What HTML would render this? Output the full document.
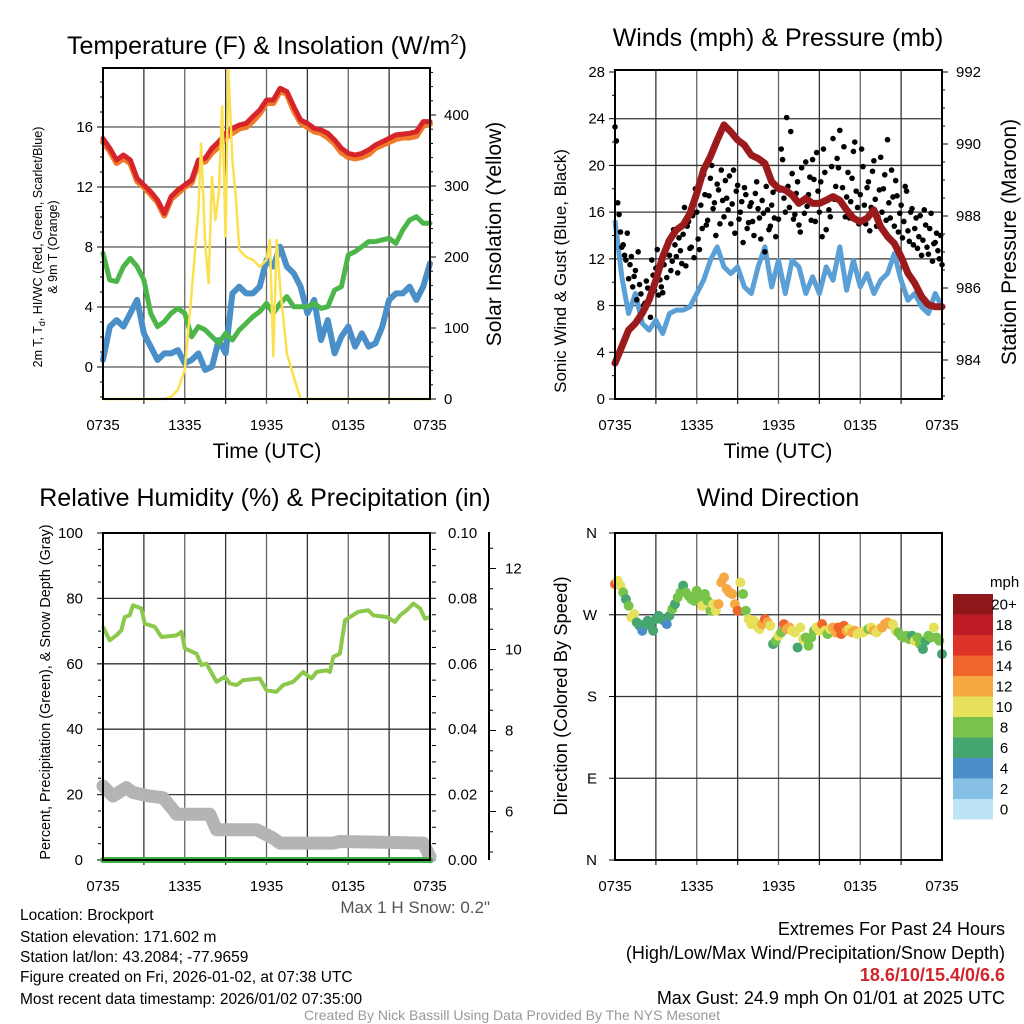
<!DOCTYPE html>
<html><head><meta charset="utf-8">
<style>
html,body{margin:0;padding:0;background:#fff;}
svg{display:block;font-family:"Liberation Sans",Arial,sans-serif;}
</style></head>
<body>
<svg id="chart" width="1024" height="1024" viewBox="0 0 1024 1024" xmlns="http://www.w3.org/2000/svg">
<rect x="0" y="0" width="1024" height="1024" fill="#fff"/>
<!-- titles -->
<text x="267" y="54" font-size="25" text-anchor="middle">Temperature (F) &amp; Insolation (W/m<tspan font-size="15" dy="-10">2</tspan><tspan dy="10">)</tspan></text>
<text x="778" y="46" font-size="25" text-anchor="middle">Winds (mph) &amp; Pressure (mb)</text>
<text x="265" y="506" font-size="25" text-anchor="middle">Relative Humidity (%) &amp; Precipitation (in)</text>
<text x="778" y="506" font-size="25" text-anchor="middle">Wind Direction</text>
<!-- axis titles -->
<text transform="translate(42,247) rotate(-90)" font-size="12.5" text-anchor="middle">2m T, T<tspan font-size="9" dy="3">d</tspan><tspan dy="-3">, HI/WC (Red, Green, Scarlet/Blue)</tspan></text>
<text transform="translate(57,247) rotate(-90)" font-size="12.5" text-anchor="middle">&amp; 9m T (Orange)</text>
<text transform="translate(501,234) rotate(-90)" font-size="21" text-anchor="middle">Solar Insolation (Yellow)</text>
<text x="267" y="458" font-size="21" text-anchor="middle">Time (UTC)</text>
<text transform="translate(566,271) rotate(-90)" font-size="17" text-anchor="middle">Sonic Wind &amp; Gust (Blue, Black)</text>
<text transform="translate(1016,242) rotate(-90)" font-size="21" text-anchor="middle">Station Pressure (Maroon)</text>
<text x="778" y="458" font-size="21" text-anchor="middle">Time (UTC)</text>
<text transform="translate(50,692) rotate(-90)" font-size="14.4" text-anchor="middle">Percent, Precipitation (Green), &amp; Snow Depth (Gray)</text>
<text transform="translate(567,696) rotate(-90)" font-size="18.4" text-anchor="middle">Direction (Colored By Speed)</text>
<text x="490" y="913" font-size="17" fill="#555" text-anchor="end">Max 1 H Snow: 0.2"</text>
<!-- info text -->
<g font-size="15.5">
<text x="20" y="920">Location: Brockport</text>
<text x="20" y="942">Station elevation: 171.602 m</text>
<text x="20" y="962">Station lat/lon: 43.2084; -77.9659</text>
<text x="20" y="982">Figure created on Fri, 2026-01-02, at 07:38 UTC</text>
<text x="20" y="1004">Most recent data timestamp: 2026/01/02 07:35:00</text>
</g>
<g font-size="18" text-anchor="end">
<text x="1005" y="935">Extremes For Past 24 Hours</text>
<text x="1005" y="959">(High/Low/Max Wind/Precipitation/Snow Depth)</text>
<text x="1005" y="981" fill="#d0252a" font-weight="bold">18.6/10/15.4/0/6.6</text>
<text x="1005" y="1004">Max Gust: 24.9 mph On 01/01 at 2025 UTC</text>
</g>
<text x="512" y="1020" font-size="14" fill="#999" text-anchor="middle">Created By Nick Bassill Using Data Provided By The NYS Mesonet</text>
<g id="plots"></g>
</svg>
<script>
// ---------- DATA ----------
const timeTicks = ['0735','1335','1935','0135','0735'];
// Temperature panel (half-hour samples)
const tempRed = [15.24,14.58,13.8,14.13,13.8,12.58,12.13,11.69,11.13,10.24,11.36,11.8,12.13,12.47,13.8,13.91,14.58,15.02,15.58,15.91,16.13,16.24,16.69,17.13,17.8,17.8,18.58,18.36,17.36,16.47,16.24,15.91,15.8,15.58,15.13,14.58,14.24,14.13,14.24,14.47,14.8,15.02,15.24,15.47,15.53,15.58,15.69,16.36,16.36];
const tempOrange = [15.0,14.4,13.6,13.9,13.6,12.4,12.0,11.5,11.0,10.1,11.2,11.6,12.0,12.3,13.6,13.7,14.3,14.7,15.3,15.6,15.9,16.0,16.4,16.9,17.6,17.6,18.4,18.2,17.1,16.3,16.0,15.7,15.6,15.3,14.9,14.3,14.0,13.9,14.0,14.2,14.6,14.8,15.0,15.2,15.3,15.3,15.4,16.1,16.2];
const dewGreen = [7.58,5.8,5.69,6.69,7.24,6.69,5.8,3.58,2.69,3.02,3.58,3.91,3.58,2.02,2.69,2.47,2.02,1.58,2.24,1.8,2.47,2.91,3.36,3.69,4.24,3.58,4.24,4.69,4.02,4.02,4.02,4.24,3.91,4.02,5.13,5.36,7.47,7.69,8.02,8.36,8.36,8.47,8.58,8.24,9.13,9.8,10.02,9.58,9.58];
const windChillBlue = [0.47,2.69,3.13,2.69,3.58,4.47,2.24,1.36,0.47,0.91,0.91,1.13,0.24,0.47,0.91,-0.2,0.02,1.8,0.91,4.91,5.36,4.91,4.91,5.36,7.13,6.69,8.02,6.69,6.24,5.36,3.58,4.47,1.8,3.13,0.91,2.02,2.69,1.36,2.24,1.36,1.58,2.69,4.47,4.91,4.91,5.36,4.47,5.36,6.91];
const solarTimes = [0,4.5,5,5.5,6,6.5,7,7.2,7.5,7.75,8,8.25,8.5,8.75,9,9.2,9.5,9.75,10,10.5,11,11.5,12,12.25,12.5,12.75,13,13.5,14,14.5,24];
const solarValues = [0,0,3,13,41,149,266,360,219,163,313,252,290,412,229,463,337,285,210,200,196,186,196,224,60,224,158,64,31,0,0];
const tempTicks = [0,4,8,12,16];
const solarTicks = [0,100,200,300,400];
// Wind panel
const windSpeed = [15.3,10.46,7.32,9.03,6.47,5.9,6.75,5.61,7.32,7.61,7.61,7.89,9.03,10.17,11.88,13.02,11.31,10.74,11.31,9.6,9.03,11.31,13.02,9.6,11.88,9.03,11.88,11.31,9.03,10.46,9.03,11.31,10.17,13.02,9.32,11.88,9.6,10.74,9.03,10.17,10.74,12.45,10.17,8.46,9.03,7.89,7.32,9.03,7.89];
const pressure = [983.91,984.37,984.83,985.02,985.3,985.67,986.22,986.87,987.33,987.61,987.75,988.07,988.63,989.28,989.65,990.11,990.53,990.34,990.11,989.97,989.69,989.6,989.46,988.95,988.77,988.72,988.58,988.35,988.49,988.35,988.35,988.44,988.54,988.44,988.17,987.94,987.84,987.94,988.17,987.7,987.43,987.24,986.87,986.41,986.13,985.76,985.53,985.48,985.48];
const gustA = [23.3,16.8,14.3,13.2,11.9,10.3,12.2,10.5,8.5,9.8,7.3,8.2,9.5,7.0,10.6,11.2,8.9,9.6,11.5,10.4,12.3,11.8,13.2,10.8,12.7,14.1,11.4,15.2,13.0,12.1,16.0,12.8,14.6,17.5,15.3,18.9,16.3,14.0,17.9,19.6,15.6,17.2,19.1,16.7,14.2,18.3,16.0,13.4,17.5,15.1,16.8,14.0,18.6,15.5,17.0,12.6,16.2,14.8,17.7,13.9,15.4,21.4,17.2,24.1,16.4,19.3,15.8,18.6,14.3,16.9,20.3,17.5,15.3,18.8,21.1,16.0,13.9,19.4,17.0,15.6,22.3,18.2,19.8,16.9,21.6,17.3,15.5,18.9,22.0,16.4,17.5,19.9,15.0,18.6,16.4,20.4,14.8,17.9,16.0,19.2,22.2,15.5,17.3,18.7,14.3,16.6,15.2,17.8,13.5,16.3,14.6,12.9,15.7,13.6,14.9,12.4,15.9,13.3,14.2,12.0,11.5];
const gustB = [22.1,15.8,13.0,12.3,14.2,11.5,9.6,11.0,12.6,9.0,8.0,10.1,8.5,11.9,9.3,12.8,10.2,9.1,12.4,13.5,11.0,14.5,12.2,13.8,11.6,16.4,14.8,12.9,15.7,18.0,13.7,16.6,19.2,14.9,17.4,20.0,16.8,18.4,15.0,17.0,18.7,16.2,15.0,19.6,17.8,15.4,16.9,18.1,14.6,16.5,15.2,17.6,16.3,13.7,15.9,18.2,14.5,16.6,15.5,18.0,17.9,20.5,16.0,18.2,22.9,15.4,17.6,14.9,19.8,15.9,16.5,19.0,20.5,15.2,17.8,18.6,21.4,14.5,16.2,19.9,17.1,20.6,23.0,18.1,15.6,19.4,16.9,21.2,17.8,15.0,21.4,16.6,18.1,14.4,19.5,17.1,15.6,20.7,18.0,15.3,16.8,19.6,14.8,17.4,15.9,13.8,18.2,14.4,16.0,13.2,15.5,13.9,12.3,16.2,13.0,14.6,11.8,13.4,12.7,14.0];
const windTicks = [0,4,8,12,16,20,24,28];
const pressureTicks = [984,986,988,990,992];
// Humidity panel
const rhTimes = [0,0.49,0.98,1.35,1.59,1.96,2.2,2.82,3.06,3.8,4.29,5.39,5.76,6,6.86,7.22,7.59,8.33,8.94,9.31,9.8,10.29,11.51,12,12.73,13.22,13.96,14.69,15.31,15.67,16.41,16.65,16.9,17.39,17.76,18.12,18.73,19.47,19.84,20.82,21.43,21.8,22.29,22.78,23.27,23.63,24];
const rhValues = [71.3,67.2,68.7,70.3,74.3,74.8,77.9,76.9,72.3,71.3,68.2,68.7,69.8,64.7,63.1,59.6,60.1,54.5,56,54,53.5,55,55.5,51.9,51.4,53.5,54.5,57.5,55.5,57.5,58,57.5,62.1,63.1,73.3,74.3,75.9,76.4,74.8,74.3,72.8,74.8,76.4,78.4,76.9,73.8,74.3];
const snowTimes = [0,0.73,1.71,2.2,3.43,4.41,5.14,5.39,7.84,8.33,11.27,12.49,12.98,16.9,17.39,23.51,24];
const snowDepth = [6.63,6.38,6.59,6.47,6.38,6.34,6.05,5.93,5.93,5.55,5.55,5.34,5.22,5.22,5.26,5.22,4.88];
const precipTimes = [0,24];
const precipValues = [0,0];
const rhTicks = [0,20,40,60,80,100];
const precipTicks = ['0.00','0.02','0.04','0.06','0.08','0.10'];
const snowTicks = [6,8,10,12];
// Wind direction panel (0.2 h samples)
const dirDegrees = [303.8,307.4,302,294.6,287.2,279.9,267.1,270.7,261.6,257.9,252.4,259.7,263.4,257.9,252.4,265.2,268.9,265.2,263.4,259.7,268.9,276.2,281.7,289.1,294.6,302,294.6,290.9,287.2,285.4,296.4,289.1,279.9,292.8,285.4,274.4,281.7,274.4,281.7,305.6,311.1,298.3,294.6,292.8,281.7,274.4,305.6,292.8,274.4,265.2,259.7,263.4,257.9,254.2,259.7,265.2,261.6,257.9,237.7,241.4,246.9,250.5,259.7,254.2,256,252.4,250.5,234,256,243.2,245,235.9,245,252.4,256,252.4,259.7,252.4,248.7,254.2,256,250.5,256,248.7,257.9,252.4,254.2,250.5,252.4,248.7,250.5,250.5,252.4,254.2,256,252.4,250.5,254.2,256,259.7,261.6,259.7,259.7,252.4,250.5,246.9,245,246.9,243.2,246.9,241.4,245,237.7,232.2,241.4,246.9,245,256,245,241.4,226.7];
const dirSpeed = [14,10,10,8,6,8,10,10,6,6,4,6,6,6,6,6,6,6,6,4,6,8,6,8,8,6,8,8,8,8,8,8,10,8,8,8,10,10,12,12,12,12,12,12,12,14,10,8,8,10,10,10,10,10,12,14,12,10,6,8,10,8,14,12,12,10,10,6,10,10,8,8,8,8,10,10,14,10,8,10,12,12,14,14,14,12,10,12,12,10,10,10,10,8,10,12,10,10,12,12,12,12,10,10,8,8,8,8,8,6,10,8,8,6,6,8,8,10,8,8,6];
const dirLabels = ['N','E','S','W','N'];
const speedBins = ['0','2','4','6','8','10','12','14','16','18','20+'];
const speedColors = ['#bfe3f6','#86c0e6','#4a8fc8','#46a670','#78c44a','#e6e05a','#f6a843','#f0652b','#dd3328','#bd1c24','#8e171a'];

// ---------- HELPERS ----------
const NS='http://www.w3.org/2000/svg';
const root=document.getElementById('plots');
function mk(tag,attrs,parent){const e=document.createElementNS(NS,tag);for(const k in attrs)e.setAttribute(k,attrs[k]);(parent||root).appendChild(e);return e;}
function lin(d0,d1,r0,r1){return v=>r0+(v-d0)/(d1-d0)*(r1-r0);}
function pathD(xs,ys,fx,fy){let d='';for(let i=0;i<Math.min(xs.length,ys.length);i++){d+=(i?'L':'M')+fx(xs[i]).toFixed(1)+','+fy(ys[i]).toFixed(1);}return d;}
function idxTimes(n){const a=[];for(let i=0;i<n;i++)a.push(i*24/(n-1));return a;}
function frame(P,name){
  const g=mk('g',{});
  
  
  for(let k=1;k<8;k++){const x=P.x0+(P.x1-P.x0)*k/8;
    const l=mk('line',{x1:x,y1:P.y0,x2:x,y2:P.y1+5,stroke:k%2?'#333':'#666','stroke-width':1.3},g);
    }
  const xs=[0,6,12,18,24];
  xs.forEach((h,i)=>{const x=P.x0+(P.x1-P.x0)*h/24;
    const t=mk('text',{x:x,y:P.y1+31,'font-size':15,'text-anchor':'middle'},g);t.textContent=timeTicks[i];
    });
  return g;
}
function border(P){
  const r=mk('rect',{x:P.x0,y:P.y0,width:P.x1-P.x0,height:P.y1-P.y0,fill:'none',stroke:'#000','stroke-width':2});
  
}

// ---------- PANEL 1: Temperature ----------
(function(){
  const P={x0:103,x1:430,y0:68,y1:399};
  const fx=lin(0,24,P.x0,P.x1), fy=lin(0,16,367,127), fs=lin(0,400,399,115);
  frame(P,'temperature-grid');
  tempTicks.forEach(v=>{const y=fy(v);
    const l=mk('line',{x1:P.x0,y1:y,x2:P.x1,y2:y,stroke:'#555','stroke-width':1.3});
    
    const t=mk('text',{x:P.x0-10,y:y+5,'font-size':15,'text-anchor':'end'});t.textContent=v;
    });
  for(let v=-2;v<=19;v++){const y=fy(v);if(y<P.y0||y>P.y1)continue;mk('line',{x1:P.x0-(v%4?3:6),y1:y,x2:P.x0,y2:y,stroke:'#000','stroke-width':1});}
  solarTicks.forEach(v=>{const y=fs(v);
    mk('line',{x1:P.x1,y1:y,x2:P.x1+6,y2:y,stroke:'#000','stroke-width':1});
    const t=mk('text',{x:P.x1+14,y:y+5,'font-size':15});t.textContent=v;
    });
  for(let v=20;v<=460;v+=20){if(v%100)mk('line',{x1:P.x1,y1:fs(v),x2:P.x1+3,y2:fs(v),stroke:'#000'});}
  const series=[[windChillBlue,'#4a8fc8',6,'wind-chill-line'],[dewGreen,'#4cb748',5,'dewpoint-line'],[tempOrange,'#f07a2a',6,'temp-9m-line'],[tempRed,'#d6242a',5,'temp-2m-line']];
  series.forEach(s=>{const p=mk('path',{d:pathD(idxTimes(s[0].length),s[0],fx,fy),fill:'none',stroke:s[1],'stroke-width':s[2],'stroke-linejoin':'round','stroke-linecap':'round'});
    });
  const sp=mk('path',{d:pathD(solarTimes,solarValues,fx,fs),fill:'none',stroke:'#fbe04f','stroke-width':2.5,'stroke-linejoin':'round'});
  
  border(P);
})();

// ---------- PANEL 2: Winds ----------
(function(){
  const P={x0:615,x1:942,y0:70,y1:399};
  const fx=lin(0,24,P.x0,P.x1), fy=lin(0,28,399,72), fp=lin(984,992,360,72);
  frame(P,'wind-grid');
  windTicks.forEach(v=>{const y=fy(v);
    if(v>0&&v<28){const l=mk('line',{x1:P.x0,y1:y,x2:P.x1,y2:y,stroke:'#333','stroke-width':1.3});
    }
    mk('line',{x1:P.x0-6,y1:y,x2:P.x0,y2:y,stroke:'#000'});
    const t=mk('text',{x:P.x0-10,y:y+5,'font-size':15,'text-anchor':'end'});t.textContent=v;
    });
  for(let v=2;v<28;v+=4)mk('line',{x1:P.x0-3,y1:fy(v),x2:P.x0,y2:fy(v),stroke:'#000'});
  pressureTicks.forEach(v=>{const y=fp(v);
    mk('line',{x1:P.x1,y1:y,x2:P.x1+6,y2:y,stroke:'#000'});
    const t=mk('text',{x:P.x1+14,y:y+5,'font-size':15});t.textContent=v;
    });
  for(let v=983;v<=992;v+=0.5){if(v%2)mk('line',{x1:P.x1,y1:fp(v),x2:P.x1+3,y2:fp(v),stroke:'#000'});}
  const wp=mk('path',{d:pathD(idxTimes(windSpeed.length),windSpeed,fx,fy),fill:'none',stroke:'#5a9fd6','stroke-width':5,'stroke-linejoin':'round'});
  
  const gg=mk('g',{});
  
  gustA.forEach((v,i)=>{const c=mk('circle',{cx:fx(i*0.2),cy:fy(v),r:2.8,fill:'#000'},gg);});
  gustB.forEach((v,i)=>{const c=mk('circle',{cx:fx(0.1+i*0.2),cy:fy(v),r:2.8,fill:'#000'},gg);});
  const pp=mk('path',{d:pathD(idxTimes(pressure.length),pressure,fx,fp),fill:'none',stroke:'#9b1a1c','stroke-width':7,'stroke-linejoin':'round','stroke-linecap':'round'});
  
  border(P);
})();

// ---------- PANEL 3: Humidity ----------
(function(){
  const P={x0:103,x1:430,y0:533,y1:860};
  const fx=lin(0,24,P.x0,P.x1), fy=lin(0,100,860,533), fsn=lin(6,8,811.5,730.5);
  frame(P,'humidity-grid');
  rhTicks.forEach((v,i)=>{const y=fy(v);
    const l=mk('line',{x1:P.x0-6,y1:y,x2:P.x1+6,y2:y,stroke:'#333','stroke-width':1.3});
    
    const t=mk('text',{x:P.x0-20,y:y+5,'font-size':15,'text-anchor':'end'});t.textContent=v;
    
    const t2=mk('text',{x:P.x1+18,y:y+5,'font-size':15});t2.textContent=precipTicks[i];
    });
  for(let v=5;v<100;v+=5){if(v%20){mk('line',{x1:P.x0-5,y1:fy(v),x2:P.x0-2,y2:fy(v),stroke:'#000'});mk('line',{x1:P.x1+2,y1:fy(v),x2:P.x1+6,y2:fy(v),stroke:'#000'});}}
  const ax=mk('line',{x1:489,y1:532,x2:489,y2:860,stroke:'#000','stroke-width':2});
  
  snowTicks.forEach(v=>{const y=fsn(v);mk('line',{x1:489,y1:y,x2:496,y2:y,stroke:'#000'});
    const t=mk('text',{x:505,y:y+5,'font-size':15});t.textContent=v;
    });
  for(let v=5;v<=12.5;v+=0.5){if(v%2)mk('line',{x1:489,y1:fsn(v),x2:493,y2:fsn(v),stroke:'#000'});}
  const rp=mk('path',{d:pathD(rhTimes,rhValues,fx,fy),fill:'none',stroke:'#8cc84b','stroke-width':4,'stroke-linejoin':'round'});
  
  const sp=mk('path',{d:pathD(snowTimes,snowDepth,fx,fsn),fill:'none',stroke:'#b4b4b4','stroke-width':13,'stroke-linejoin':'round','stroke-linecap':'round'});
  
  const pr=mk('path',{d:pathD(precipTimes,precipValues,fx,fy),fill:'none',stroke:'#3daf44','stroke-width':6,'stroke-linecap':'round'});
  
  border(P);
})();

// ---------- PANEL 4: Wind Direction ----------
(function(){
  const P={x0:615,x1:942,y0:533,y1:860};
  const fx=lin(0,24,P.x0,P.x1), fy=lin(0,360,860,533);
  frame(P,'direction-grid');
  dirLabels.forEach((s,i)=>{const y=fy(i*90);
    if(i>0&&i<4){const l=mk('line',{x1:P.x0,y1:y,x2:P.x1,y2:y,stroke:'#333','stroke-width':1.3});
      }
    mk('line',{x1:P.x0-6,y1:y,x2:P.x0,y2:y,stroke:'#000'});
    const t=mk('text',{x:P.x0-18,y:y+5,'font-size':15,'text-anchor':'end'});t.textContent=s;
    });
  const g=mk('g',{});
  
  const n=Math.min(dirDegrees.length,dirSpeed.length);
  for(let i=0;i<n;i++){
    const bin=Math.max(0,Math.min(10,Math.round(dirSpeed[i]/2)));
    const c=mk('circle',{cx:fx(i*24/(n-1)),cy:fy(dirDegrees[i]),r:5,fill:speedColors[bin]},g);
    
  }
  border(P);
  // colorbar
  const cb=mk('g',{});
  
  const bx=953,bw=40,bh=20.5,btop=594;
  const u=mk('text',{x:990,y:587,'font-size':15},cb);u.textContent='mph';
  
  speedBins.forEach((lab,i)=>{const k=10-i;const y=btop+k*bh;
    const r=mk('rect',{x:bx,y:y,width:bw,height:bh,fill:speedColors[i]},cb);
    
    const t=mk('text',{x:1004,y:y+bh/2+5,'font-size':15,'text-anchor':'middle'},cb);t.textContent=lab;
    });
})();
</script>
</body></html>
